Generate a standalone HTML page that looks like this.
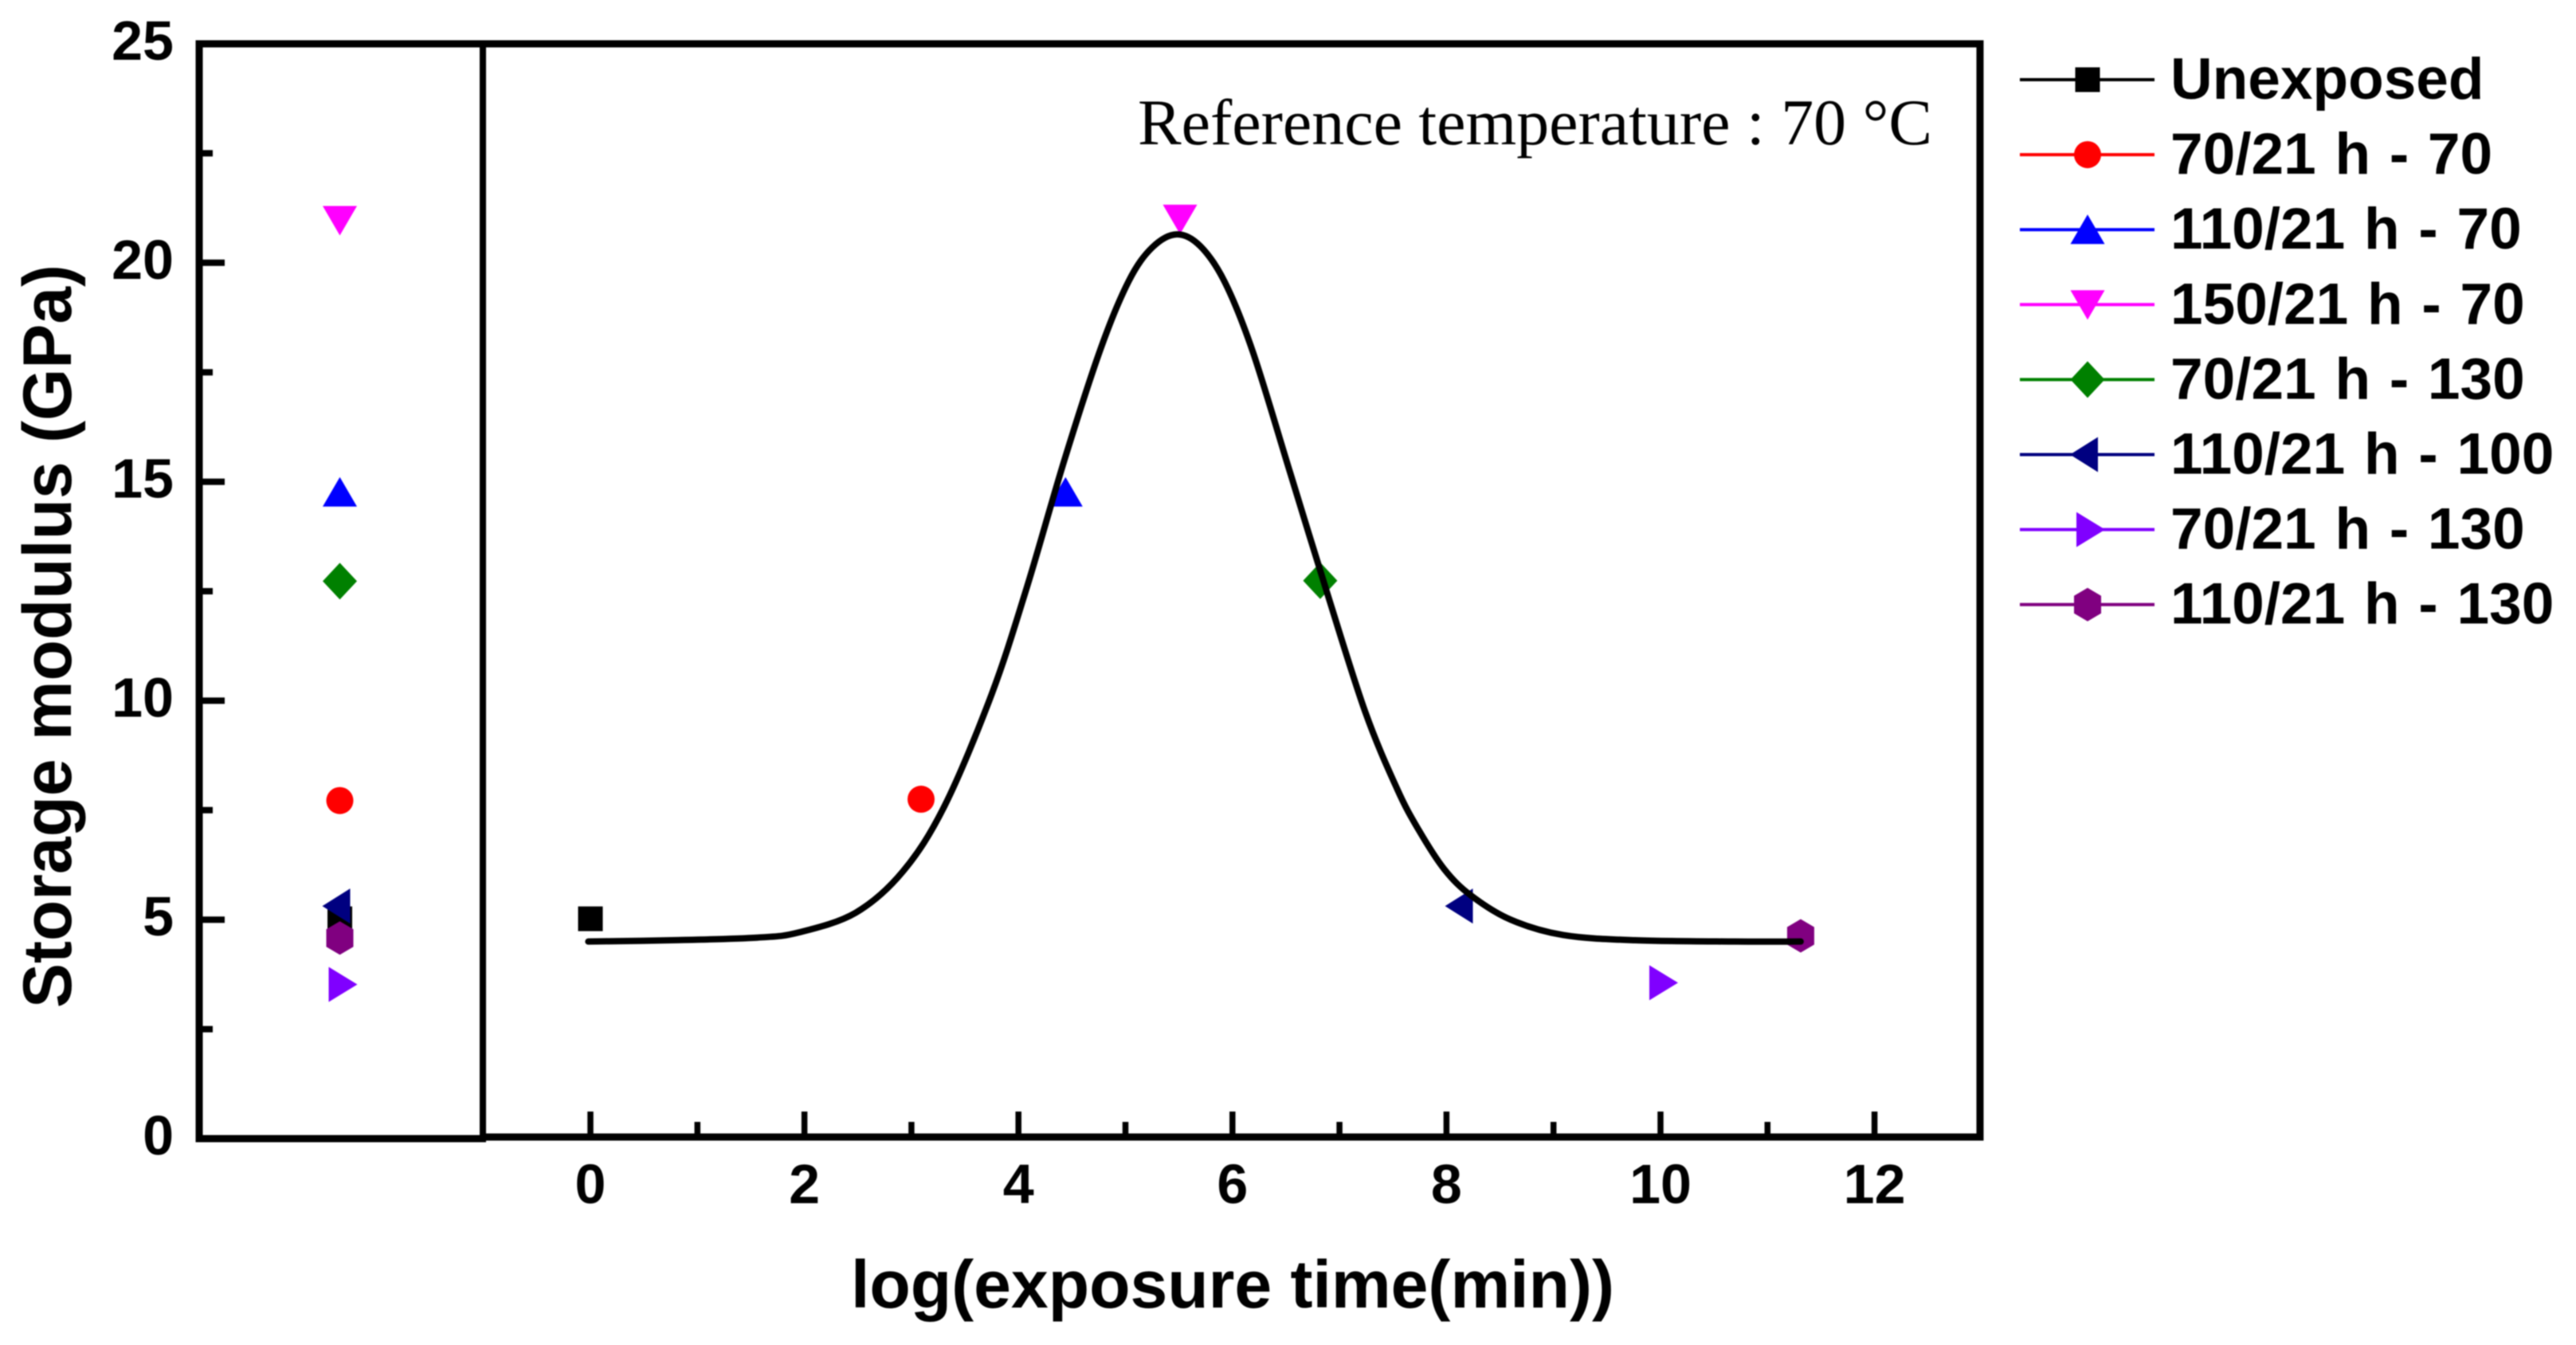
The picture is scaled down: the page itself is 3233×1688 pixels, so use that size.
<!DOCTYPE html>
<html lang="en">
<head>
<meta charset="utf-8">
<title>Storage modulus vs log exposure time</title>
<style>
html,body{margin:0;padding:0;background:#fff;}
svg{display:block;filter:blur(0.8px);}
text{fill:#000;font-family:"Liberation Sans",Arial,sans-serif;}
.b{font-weight:bold;}
</style>
</head>
<body>
<svg id="chart" xmlns="http://www.w3.org/2000/svg" width="3233" height="1688" viewBox="0 0 3233 1688">
  <rect x="0" y="0" width="3233" height="1688" fill="#fff"/>
  <g id="marks"></g>
  <g id="curve-layer"></g>
  <g id="axes" fill="none" stroke="#000"></g>
  <g id="tick-labels"></g>
  <text class="b" font-size="86" transform="translate(89,1265) rotate(-90)" textLength="933" lengthAdjust="spacingAndGlyphs">Storage modulus (GPa)</text>
  <text class="b" font-size="84" x="1068" y="1641" textLength="958" lengthAdjust="spacingAndGlyphs">log(exposure time(min))</text>
  <text style="font-family:'Liberation Serif','Times New Roman',serif" font-size="82" x="1428" y="181" textLength="997" lengthAdjust="spacingAndGlyphs">Reference temperature : 70 °C</text>
  <g id="legend"></g>
</svg>
<script>
// ---- data ----
const seriesNames = ["Unexposed","70/21 h - 70","110/21 h - 70","150/21 h - 70","70/21 h - 130","110/21 h - 100","70/21 h - 130","110/21 h - 130"];
const seriesColors = ["#000000","#ff0000","#0000ff","#ff00ff","#008000","#000080","#8000ff","#800080"];
const seriesShapes = ["square","circle","up","down","diamond","left","right","hex"];
const modulusValues = [5.02,7.72,14.76,20.97,12.73,5.31,3.52,4.58];
const logTimes = [0,3.09,4.44,5.51,6.82,8.15,10.0,11.31];
const logTimeModulus = [5.02,7.75,14.76,21.0,12.74,5.31,3.56,4.63];
const curveLogTime = [-0.02,0.76,1.56,1.95,2.48,2.92,3.31,3.75,4.08,4.43,4.77,5.03,5.25,5.48,5.7,5.93,6.19,6.54,6.88,7.24,7.54,7.74,7.98,8.23,8.6,9.09,9.76,10.7,11.31];
const curveModulus = [4.5,4.53,4.59,4.71,5.16,6.1,7.6,10.15,12.6,15.5,18.05,19.58,20.35,20.65,20.38,19.55,17.97,15.2,12.5,9.75,7.98,7.05,6.15,5.55,5.0,4.65,4.53,4.5,4.5];
const yMajorTicks = [0,5,10,15,20,25];
const yMinorTicks = [2.5,7.5,12.5,17.5,22.5];
const xMajorTicks = [0,2,4,6,8,10,12];
const xMinorTicks = [1,3,5,7,9,11];

// ---- axis functions ----
const yAt = v => 1429 - v * 54.96;
const xAt = v => 741 + v * 134.3;
const BREAK_COLUMN_X = 426.5;
const SVGNS = "http://www.w3.org/2000/svg";
const marksG = document.getElementById("marks");
const axesG = document.getElementById("axes");
const tickLabelG = document.getElementById("tick-labels");
const legendG = document.getElementById("legend");
const curveG = document.getElementById("curve-layer");

function mk(tag, attrs, parent){
  const e = document.createElementNS(SVGNS, tag);
  for (const k in attrs) e.setAttribute(k, attrs[k]);
  parent.appendChild(e);
  return e;
}
function pts(cx, cy, arr){
  return arr.map(p => (cx + p[0]) + "," + (cy + p[1])).join(" ");
}
function marker(shape, cx, cy, color, parent){
  let m;
  if (shape === "square") m = mk("rect", {x:cx-15.5, y:cy-15.5, width:31, height:31, fill:color}, parent);
  else if (shape === "circle") m = mk("circle", {cx:cx, cy:cy, r:17, fill:color}, parent);
  else if (shape === "up") m = mk("polygon", {points:pts(cx,cy,[[0,-19],[21.5,18],[-21.5,18]]), fill:color}, parent);
  else if (shape === "down") m = mk("polygon", {points:pts(cx,cy,[[-21.5,-18],[21.5,-18],[0,19]]), fill:color}, parent);
  else if (shape === "diamond") m = mk("polygon", {points:pts(cx,cy,[[0,-23],[21.5,0],[0,23],[-21.5,0]]), fill:color}, parent);
  else if (shape === "left") m = mk("polygon", {points:pts(cx,cy,[[-22,0],[13,-22],[13,22]]), fill:color}, parent);
  else if (shape === "right") m = mk("polygon", {points:pts(cx,cy,[[-14,-22],[22,0],[-14,22]]), fill:color}, parent);
  else m = mk("polygon", {points:pts(cx,cy,[[0,-21],[17,-11],[17,11],[0,21],[-17,11],[-17,-11]]), fill:color}, parent);
  return m;
}

// ---- axes ----
const frame = mk("path", {d:"M250 1429 V55 H2485 V1427 H606", "stroke-width":9}, axesG);


const bottomLeft = mk("line", {x1:245.5, y1:1429, x2:610, y2:1429, "stroke-width":9}, axesG);


const brk = mk("line", {x1:606, y1:55, x2:606, y2:1429, "stroke-width":8}, axesG);



yMajorTicks.forEach(v => {
  if (v > 0 && v < 25) {
    const t = mk("line", {x1:250, y1:yAt(v), x2:282, y2:yAt(v), "stroke-width":8}, axesG);
    
    
  }
  const lb = mk("text", {x:218, y:yAt(v)+20, "font-size":70, "text-anchor":"end", class:"b"}, tickLabelG);
  lb.textContent = v;
  
  
});
yMinorTicks.forEach(v => {
  const t = mk("line", {x1:250, y1:yAt(v), x2:267, y2:yAt(v), "stroke-width":8}, axesG);
  
  
});
xMajorTicks.forEach(v => {
  const t = mk("line", {x1:xAt(v), y1:1427, x2:xAt(v), y2:1395, "stroke-width":7.5}, axesG);
  
  
  const lb = mk("text", {x:xAt(v), y:1510, "font-size":70, "text-anchor":"middle", class:"b"}, tickLabelG);
  lb.textContent = v;
  
  
});
xMinorTicks.forEach(v => {
  const t = mk("line", {x1:xAt(v), y1:1427, x2:xAt(v), y2:1408, "stroke-width":7.5}, axesG);
  
  
});

// ---- series markers ----
seriesNames.forEach((n, i) => {
  const a = marker(seriesShapes[i], BREAK_COLUMN_X, yAt(modulusValues[i]), seriesColors[i], marksG);
  
  
  const b = marker(seriesShapes[i], xAt(logTimes[i]), yAt(logTimeModulus[i]), seriesColors[i], marksG);
  
  
});

// ---- fit curve (smoothed through the read points) ----
(function(){
  const P = curveLogTime.map((x, i) => [xAt(x), yAt(curveModulus[i])]);
  let d = "M" + P[0][0] + " " + P[0][1];
  for (let i = 0; i < P.length - 1; i++) {
    const p0 = P[Math.max(i-1,0)], p1 = P[i], p2 = P[i+1], p3 = P[Math.min(i+2,P.length-1)];
    const c1 = [p1[0]+(p2[0]-p0[0])/6, p1[1]+(p2[1]-p0[1])/6];
    const c2 = [p2[0]-(p3[0]-p1[0])/6, p2[1]-(p3[1]-p1[1])/6];
    d += " C" + c1[0] + " " + c1[1] + " " + c2[0] + " " + c2[1] + " " + p2[0] + " " + p2[1];
  }
  const c = mk("path", {d:d, fill:"none", stroke:"#000", "stroke-width":8, "stroke-linecap":"round", "stroke-linejoin":"round"}, curveG);
  
  
})();

// ---- legend ----
seriesNames.forEach((n, i) => {
  const ly = 100 + i * 94.1;
  const g = mk("g", {}, legendG);
  
  
  const l = mk("line", {x1:2535, y1:ly, x2:2704, y2:ly, stroke:seriesColors[i], "stroke-width":4}, g);
  
  
  const m = marker(seriesShapes[i], 2620, ly, seriesColors[i], g);
  
  
  const t = mk("text", {x:2724, y:ly+24, "font-size":73, "word-spacing":3.5, class:"b"}, g);
  t.textContent = n;
  
  
});
</script>
</body>
</html>
